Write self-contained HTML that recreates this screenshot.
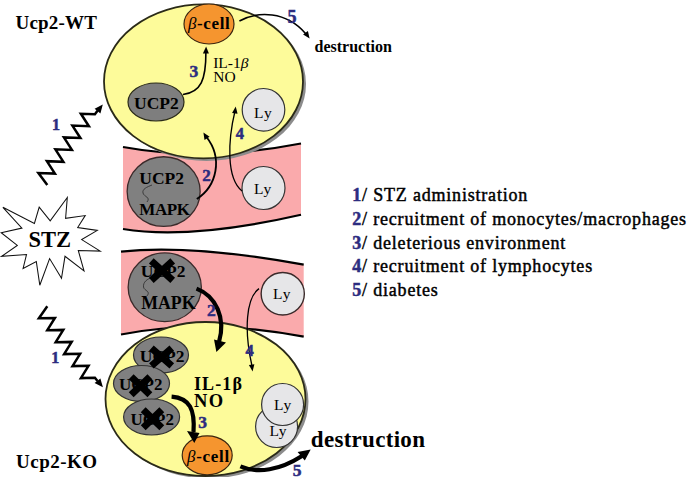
<!DOCTYPE html>
<html><head><meta charset="utf-8">
<style>
html,body{margin:0;padding:0;background:#fff;width:688px;height:477px;overflow:hidden}
svg{display:block}
text{font-family:"Liberation Serif",serif}
.b{font-weight:bold}
.n{fill:#2c2c80;font-weight:bold;stroke:#2c2c80;stroke-width:0.5}
</style></head><body>
<svg width="688" height="477" viewBox="0 0 688 477">

<!-- ===== UPPER (WT) ===== -->
<path d="M123,147 Q205,162 301,143.5 L301,214.7 Q190,240 123,229 Z" fill="#faaaac"/>
<path d="M123,147 Q205,162 301,143.5" fill="none" stroke="#000" stroke-width="2.2"/>
<path d="M123,229 Q190,240 301,214.7" fill="none" stroke="#000" stroke-width="2.2"/>
<ellipse cx="206.5" cy="83.9" rx="99.5" ry="77" fill="#8c8c8c"/>
<ellipse cx="203.5" cy="81.4" rx="99.5" ry="77" fill="#fdfb9a" stroke="#2a2a18" stroke-width="1.8"/>
<ellipse cx="209" cy="24" rx="25" ry="20" fill="#f5952f" stroke="#3a2510" stroke-width="1.2"/>
<text x="188" y="28.5" font-size="17" letter-spacing="0.6"><tspan font-style="italic">β</tspan><tspan class="b">-cell</tspan></text>
<ellipse cx="156" cy="102" rx="28" ry="19" fill="#7e7e7e" stroke="#2a2a18" stroke-width="1.2"/>
<text x="134" y="109.3" font-size="17.5" class="b">UCP2</text>
<text x="213.2" y="67.5" font-size="15.5">IL-1<tspan font-style="italic">β</tspan></text>
<text x="213.2" y="81.7" font-size="15.5">NO</text>
<circle cx="263.5" cy="109.8" r="21.3" fill="#e6e6e8" stroke="#333" stroke-width="1.2"/>
<text x="254" y="118" font-size="15.5" letter-spacing="1.3">Ly</text>
<ellipse cx="163.65" cy="191.55" rx="36.5" ry="34.8" fill="#808080" stroke="#3a2a2a" stroke-width="1.3"/>
<text x="139.3" y="183.5" font-size="17.5" class="b">UCP2</text>
<text x="139.3" y="215" font-size="17" letter-spacing="-0.4" class="b">MAPK</text>
<path d="M152,185 C147,187 142,189 143,193 C144,197 151,197 147,202" fill="none" stroke="#333" stroke-width="0.9"/>
<circle cx="263.5" cy="188" r="21.5" fill="#e6e6e8" stroke="#333" stroke-width="1.2"/>
<text x="254" y="194" font-size="15.5" letter-spacing="1">Ly</text>
<path d="M183,94.5 C201,92 206,80 205.9,52" fill="none" stroke="#000" stroke-width="1.6"/>
<path d="M206.1,46.5 L208.9,53.6 L202.9,53.4 Z" fill="#000"/>
<path d="M196.8,199 C217,186 223,158 206.5,137" fill="none" stroke="#000" stroke-width="1.8"/>
<path d="M203.4,132.4 L209.6,136.8 L204.5,139.9 Z" fill="#000"/>
<path d="M242,191 C226,178 228,140 235,111" fill="none" stroke="#000" stroke-width="1.3"/>
<path d="M235.7,106.5 L237.6,113.8 L232.1,113.1 Z" fill="#000"/>
<path d="M239.4,21 C258,11 286,11 305.5,33.5" fill="none" stroke="#000" stroke-width="1.6"/>
<path d="M309.6,38.5 L303.1,34.6 L307.9,31.1 Z" fill="#000"/>
<text x="189.5" y="76.8" font-size="17.5" class="n">3</text>
<text x="202.2" y="180.7" font-size="17" class="n">2</text>
<text x="235.8" y="139.2" font-size="16.5" class="n">4</text>
<text x="287.6" y="22.6" font-size="18" class="n">5</text>
<text x="314.5" y="51.9" font-size="16" class="b">destruction</text>
<text x="15.5" y="28.8" font-size="19" letter-spacing="0.2" class="b">Ucp2-WT</text>

<!-- ===== LEFT ===== -->
<path d="M47.3,185.1 L38.4,173.0 L54.9,173.6 L46.9,161.2 L63.4,161.8 L55.4,149.3 L71.9,149.9 L63.9,137.4 L80.4,138.0 L72.4,125.6 L88.9,126.2 L80.9,113.8 L94.9,114.3 L97.5,110.8" fill="none" stroke="#000" stroke-width="2.5" stroke-linejoin="miter"/>
<path d="M102.8,104.4 L100.4,113.4 L94.6,108.7 Z" fill="#000"/>
<path d="M47.3,306.3 L38.9,318.3 L54.9,318.0 L47.3,330.2 L63.3,329.9 L55.7,342.2 L71.7,341.9 L64.1,354.1 L80.1,353.8 L72.5,366.1 L88.5,365.8 L80.9,378.1 L94.9,377.8 L97.5,381.0" fill="none" stroke="#000" stroke-width="2.5" stroke-linejoin="miter"/>
<path d="M102.9,387.3 L94.6,383.1 L100.4,378.4 Z" fill="#000"/>
<text x="52" y="129.8" font-size="16" class="n">1</text>
<text x="51.2" y="362.7" font-size="16" class="n">1</text>
<path d="M2.9,207.3 L34.4,223.4 L39.2,207.1 L50.2,220.9 L67.3,197.5 L65.6,218.3 L85.2,215.6 L77.7,227.5 L97.3,230.4 L81.7,239.6 L100.2,251.1 L78.3,250.6 L84,270.8 L65,256.3 L61.5,278.3 L49.6,258.6 L39.8,285.2 L36.3,261.5 L23.1,268.4 L26.5,254.6 L1.7,256.3 L17.3,245.4 L1.2,232.7 L21.9,228.1 Z" fill="#fff" stroke="#111" stroke-width="1.05"/>
<text x="28.5" y="246.6" font-size="22.5" class="b">STZ</text>

<!-- ===== LOWER (KO) ===== -->
<path d="M121,251.6 Q190,244 303.7,264.7 L303.7,336.7 Q205,318 121,334.5 Z" fill="#faaaac"/>
<path d="M121,251.6 Q190,244 303.7,264.7" fill="none" stroke="#000" stroke-width="2.2"/>
<path d="M121,334.5 Q205,318 303.7,336.7" fill="none" stroke="#000" stroke-width="2.2"/>
<ellipse cx="208.5" cy="401.5" rx="100" ry="77" fill="#8c8c8c"/>
<ellipse cx="205.5" cy="399" rx="100" ry="77" fill="#fdfb9a" stroke="#2a2a18" stroke-width="1.8"/>
<ellipse cx="164.75" cy="287.3" rx="36.6" ry="34.4" fill="#808080" stroke="#3a2a2a" stroke-width="1.3"/>
<text x="140.8" y="276.5" font-size="17.5" class="b">UCP2</text>
<text x="141.2" y="308.7" font-size="17.8" class="b">MAPK</text>
<path d="M152.7,277.2 C147,279 143,282 143.5,287 C144,291 152,291 146.2,296.8" fill="none" stroke="#333" stroke-width="0.9"/>
<ellipse cx="282.75" cy="293.75" rx="21.6" ry="21.2" fill="#e6e6e8" stroke="#3a2a2a" stroke-width="1.4"/>
<text x="273" y="299" font-size="15.5" letter-spacing="1.2">Ly</text>
<ellipse cx="161" cy="355" rx="27.5" ry="18" fill="#808080" stroke="#333" stroke-width="1.2"/>
<text x="139.8" y="362.2" font-size="17.5" class="b">UCP2</text>
<ellipse cx="141.5" cy="383.5" rx="28" ry="18" fill="#808080" stroke="#333" stroke-width="1.2"/>
<text x="119" y="390.4" font-size="17" class="b">UCP2</text>
<ellipse cx="151.6" cy="417" rx="28" ry="18" fill="#808080" stroke="#333" stroke-width="1.2"/>
<text x="130.5" y="424.8" font-size="17" class="b">UCP2</text>
<text x="194" y="390" font-size="18" letter-spacing="1.1" class="b">IL-1β</text>
<text x="194" y="407" font-size="18.5" letter-spacing="1.5" class="b">NO</text>
<circle cx="276.6" cy="426.5" r="21" fill="#e6e6e8" stroke="#333" stroke-width="1.2"/>
<text x="269.5" y="435.7" font-size="15.5" letter-spacing="0.6">Ly</text>
<circle cx="282.6" cy="404.5" r="21" fill="#e6e6e8" stroke="#333" stroke-width="1.2"/>
<text x="274" y="410" font-size="15.5" letter-spacing="1">Ly</text>
<ellipse cx="207.2" cy="455.3" rx="25" ry="19.5" fill="#f5952f" stroke="#3a2510" stroke-width="1.2"/>
<text x="187" y="462" font-size="17" letter-spacing="0.7"><tspan font-style="italic">β</tspan><tspan class="b">-cell</tspan></text>
<path d="M196.5,288.6 C216,296 226,318 219,342" fill="none" stroke="#000" stroke-width="4.2"/>
<path d="M214,339.5 L226,342.5 L216.4,352 Z" fill="#000"/>
<path d="M171.6,396.6 C190,398 195,410 193.5,432" fill="none" stroke="#000" stroke-width="4.2"/>
<path d="M187,431 L199.5,433 L194.3,443 Z" fill="#000"/>
<path d="M240.4,466.4 C258,474 280,470 302,456" fill="none" stroke="#000" stroke-width="4.2"/>
<path d="M297.6,452 L310.7,449.4 L304.8,460.6 Z" fill="#000"/>
<path d="M259,288.6 C246,298 244,330 251.8,365" fill="none" stroke="#000" stroke-width="1.3"/>
<path d="M252.6,371.5 L248.9,364.9 L254.4,364.2 Z" fill="#000"/>
<g stroke="#000" stroke-width="7" stroke-linecap="butt">
<path d="M151.3,260.8 L172.7,280.4 M172.7,260.8 L151.3,280.4"/>
<path d="M151.4,348.1 L171.8,365.9 M171.8,348.1 L151.4,365.9"/>
<path d="M131.2,376.8 L149.9,394.8 M149.9,376.8 L131.2,394.8"/>
<path d="M143.2,409.8 L161.8,427.8 M161.8,409.8 L143.2,427.8"/>
</g>
<text x="207" y="316" font-size="17.5" class="n">2</text>
<text x="245.5" y="356.3" font-size="16.5" class="n">4</text>
<text x="198.2" y="427.6" font-size="17.5" class="n">3</text>
<text x="292.7" y="476.4" font-size="17.5" class="n">5</text>
<text x="310.8" y="446.7" font-size="23" letter-spacing="0.3" class="b">destruction</text>
<text x="16" y="467.5" font-size="19" letter-spacing="0.5" class="b">Ucp2-KO</text>

<!-- ===== LEGEND ===== -->
<g font-size="18" letter-spacing="0.8" stroke="#000" stroke-width="0.45">
<text x="352.3" y="200.9"><tspan class="n">1</tspan>/ STZ administration</text>
<text x="352.3" y="224.7"><tspan class="n">2</tspan>/ recruitment of monocytes/macrophages</text>
<text x="352.3" y="248.5"><tspan class="n">3</tspan>/ deleterious environment</text>
<text x="352.3" y="272.3"><tspan class="n">4</tspan>/ recruitment of lymphocytes</text>
<text x="352.3" y="296.1"><tspan class="n">5</tspan>/ diabetes</text>
</g>
</svg>
</body></html>
